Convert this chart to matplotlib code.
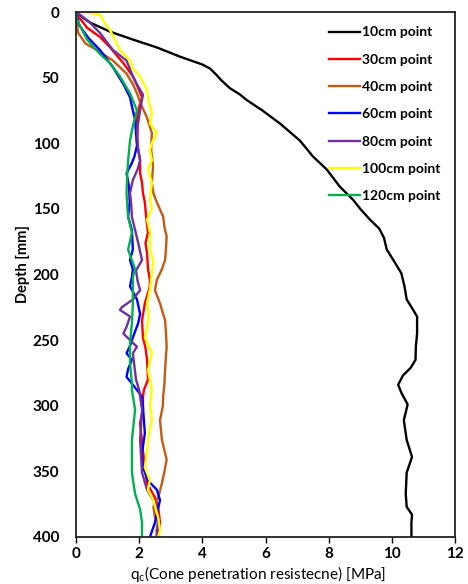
import matplotlib
matplotlib.use("Agg")
import matplotlib.pyplot as plt

plt.rcParams["font.family"] = ["Lato", "DejaVu Sans"]
plt.rcParams["mathtext.fontset"] = "custom"
plt.rcParams["mathtext.rm"] = "Lato"

# ---- data (depth in mm, qc in MPa) ----
d_10 = [0, 4, 8, 15, 21, 27, 34, 40, 43, 48, 52, 58, 63, 67, 75, 85, 98, 110, 120, 133, 143, 150, 158, 165,
        172, 181, 191, 199, 209, 219, 226, 232, 245, 255, 265, 271, 277, 284, 290, 299, 311, 326, 339, 351,
        367, 377, 383, 389, 400]
q_10 = [0.0, 0.2, 0.44, 1.08, 1.8, 2.56, 3.29, 4.0, 4.24, 4.45, 4.6, 4.87, 5.2, 5.4, 5.9, 6.46, 7.09, 7.5,
        7.94, 8.35, 8.77, 9.0, 9.3, 9.6, 9.75, 9.84, 10.1, 10.3, 10.4, 10.47, 10.65, 10.8, 10.8, 10.76, 10.75,
        10.6, 10.35, 10.2, 10.3, 10.5, 10.38, 10.47, 10.64, 10.47, 10.44, 10.47, 10.64, 10.62, 10.62]

d_30 = [0, 2, 12, 19, 27, 39, 49, 57, 65, 72, 80, 90, 98, 105, 113, 123, 130, 138, 145, 156, 168, 176, 184,
        196, 204, 209, 222, 235, 248, 256, 265, 280, 288, 293, 303, 313, 328, 347, 359, 370, 377, 389, 400]
q_30 = [0.0, 0.03, 0.35, 0.76, 1.08, 1.5, 1.8, 1.95, 2.09, 2.0, 1.93, 1.95, 1.93, 1.97, 2.03, 2.03, 2.09,
        2.12, 2.18, 2.22, 2.28, 2.2, 2.25, 2.28, 2.34, 2.34, 2.18, 2.09, 2.12, 2.2, 2.25, 2.28, 2.15, 2.12,
        2.12, 2.03, 2.09, 2.18, 2.25, 2.5, 2.6, 2.66, 2.6]

d_40 = [0, 10, 16, 24, 29, 37, 47, 55, 62, 70, 80, 92, 105, 118, 130, 138, 145, 156, 164, 171, 180, 189,
        196, 204, 212, 222, 235, 245, 255, 265, 273, 283, 293, 300, 311, 326, 341, 350, 359, 370, 377, 385,
        389, 395, 400]
q_40 = [0.0, 0.03, 0.07, 0.3, 0.66, 1.17, 1.6, 1.8, 1.93, 2.05, 2.24, 2.4, 2.38, 2.44, 2.4, 2.45, 2.56,
        2.76, 2.8, 2.87, 2.85, 2.82, 2.72, 2.56, 2.5, 2.66, 2.82, 2.85, 2.87, 2.84, 2.82, 2.8, 2.76, 2.75,
        2.66, 2.72, 2.87, 2.8, 2.72, 2.6, 2.45, 2.5, 2.6, 2.55, 2.56]

d_60 = [0, 10, 20, 29, 42, 55, 65, 75, 82, 92, 102, 110, 115, 123, 133, 145, 156, 166, 181, 189, 196, 202,
        209, 219, 230, 237, 248, 255, 260, 265, 272, 278, 283, 293, 301, 321, 336, 347, 357, 364, 372, 382,
        389, 400]
q_60 = [0.0, 0.1, 0.4, 0.76, 1.17, 1.5, 1.71, 1.8, 1.87, 1.9, 1.93, 1.85, 1.77, 1.6, 1.68, 1.7, 1.65, 1.77,
        1.8, 1.71, 1.8, 1.77, 1.71, 1.93, 2.03, 1.97, 1.8, 1.7, 1.6, 1.77, 1.65, 1.6, 1.77, 2.09, 2.12, 2.18,
        2.09, 2.12, 2.28, 2.56, 2.66, 2.56, 2.5, 2.34]

d_80 = [0, 1, 8, 16, 29, 37, 49, 56, 63, 75, 90, 105, 113, 120, 128, 138, 147, 156, 166, 176, 189, 197,
        205, 212, 219, 225, 227, 232, 240, 245, 250, 255, 260, 270, 280, 288, 303, 326, 351, 364, 374, 385,
        400]
q_80 = [0.0, 0.07, 0.44, 0.76, 1.17, 1.6, 1.8, 1.95, 2.12, 2.03, 1.93, 1.97, 2.03, 1.95, 1.8, 1.71, 1.75,
        1.77, 1.87, 1.97, 2.09, 1.9, 1.95, 2.03, 1.8, 1.45, 1.39, 1.71, 1.6, 1.5, 1.71, 1.93, 1.8, 1.85, 1.9,
        2.0, 2.09, 2.03, 2.09, 2.25, 2.5, 2.6, 2.56]

d_100 = [0, 1, 2, 8, 14, 22, 29, 37, 43, 49, 59, 68, 77, 85, 92, 100, 105, 113, 120, 130, 143, 150, 158,
         168, 181, 190, 199, 210, 222, 230, 237, 248, 260, 273, 288, 300, 311, 322, 334, 347, 357, 364, 372,
         385, 395, 400]
q_100 = [0.2, 0.5, 0.76, 0.9, 1.08, 1.25, 1.39, 1.71, 1.8, 2.03, 2.24, 2.3, 2.4, 2.34, 2.56, 2.4, 2.34,
         2.4, 2.28, 2.4, 2.34, 2.4, 2.25, 2.34, 2.34, 2.45, 2.4, 2.35, 2.25, 2.3, 2.28, 2.18, 2.4, 2.28, 2.4,
         2.35, 2.4, 2.3, 2.25, 2.18, 2.34, 2.28, 2.45, 2.6, 2.66, 2.6]

d_120 = [0, 6, 21, 32, 39, 49, 62, 75, 87, 98, 113, 125, 138, 150, 156, 168, 181, 196, 202, 222, 237, 252,
         267, 283, 288, 303, 326, 351, 367, 379, 389, 400]
q_120 = [0.0, 0.03, 0.35, 0.76, 1.08, 1.39, 1.71, 1.93, 1.8, 1.71, 1.65, 1.62, 1.6, 1.63, 1.65, 1.77, 1.65,
         1.87, 1.8, 1.8, 1.77, 1.71, 1.71, 1.77, 1.77, 1.87, 1.77, 1.77, 1.87, 2.03, 2.09, 2.09]

labels = ["10cm point", "30cm point", "40cm point", "60cm point", "80cm point", "100cm point", "120cm point"]
colors = ["#000000", "#FF0000", "#C55A11", "#0000FF", "#7030A0", "#FFFF00", "#00B050"]
series = [(q_10, d_10), (q_30, d_30), (q_40, d_40), (q_60, d_60), (q_80, d_80), (q_100, d_100), (q_120, d_120)]

x_ticks = [0, 2, 4, 6, 8, 10, 12]
y_ticks = [0, 50, 100, 150, 200, 250, 300, 350, 400]

fig = plt.figure(figsize=(4.68, 5.84), dpi=100)
ax = fig.add_axes([76 / 468, 1 - 537 / 584, (455 - 76) / 468, (537 - 12) / 584])

for (q, d), c, lab in zip(series, colors, labels):
    ax.plot(q, d, color=c, lw=1.7, label=lab, solid_joinstyle="round")

ax.set_xlim(0, 12)
ax.set_ylim(400, 0)
ax.set_xticks(x_ticks)
ax.set_yticks(y_ticks)
ax.tick_params(axis="x", direction="out", length=4, width=1, labelsize=11, pad=3)
ax.tick_params(axis="y", length=0, labelsize=11, pad=12)
for lab in ax.get_xticklabels() + ax.get_yticklabels():
    lab.set_fontweight("bold")
for s in ax.spines.values():
    s.set_linewidth(1.3)
    s.set_color("#222222")

ax.set_ylabel("Depth [mm]", fontsize=10.5, fontweight="bold")
ax.yaxis.set_label_coords(-53 / 379, 1 - (264 - 12) / 525)
ax.set_xlabel(r"q$_\mathregular{c}$(Cone penetration resistecne) [MPa]", fontsize=11)
ax.xaxis.set_label_coords((258 - 76) / 379, -(574 - 537) / 525)
ax.xaxis.label.set_va("center")
ax.yaxis.label.set_va("center")

leg = ax.legend(loc="upper right", frameon=False, fontsize=10, handlelength=2.2, handletextpad=0.15,
                labelspacing=1.1, borderaxespad=0.0, bbox_to_anchor=(0.975, 0.983))
for t in leg.get_texts():
    t.set_fontweight("bold")

fig.savefig("out.png", dpi=100)
